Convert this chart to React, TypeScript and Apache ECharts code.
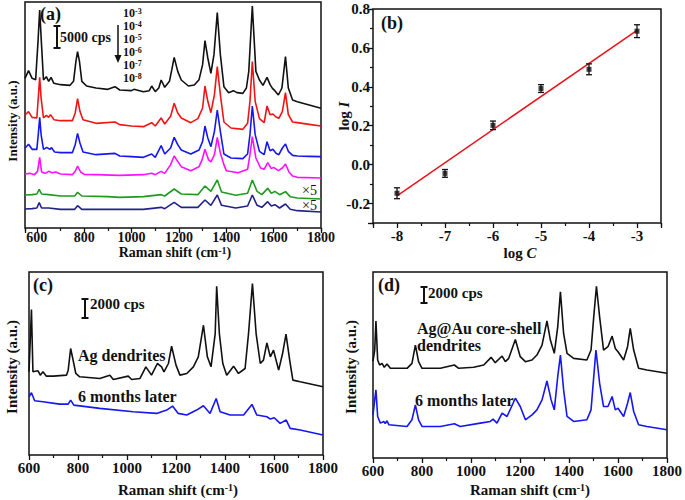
import React, { useEffect, useRef } from 'react';
import * as echarts from 'echarts';

const FONT = "'Times New Roman','Liberation Serif',serif";

// ---------- Panel (a): concentration series (Raman shift, intensity a.u.) ----------
const specA_1e3 = [[550,449],[565,472],[580,449],[595,445],[605,560],[612,654],[619,560],[628,444],[640,454],[650,440],[660,452],[672,434],[700,430],[740,428],[755,440],[765,500],[772,529],[780,500],[790,440],[810,426],[850,420],[900,416],[930,424],[950,414],[1000,412],[1010,416],[1050,409],[1075,412],[1085,426],[1100,409],[1115,420],[1125,444],[1140,422],[1160,440],[1170,475],[1180,512],[1195,470],[1210,444],[1240,426],[1265,429],[1285,445],[1300,490],[1310,562],[1322,510],[1335,464],[1348,520],[1362,646],[1375,520],[1390,424],[1410,406],[1430,412],[1445,406],[1470,404],[1485,420],[1495,470],[1510,666],[1525,470],[1540,444],[1555,428],[1572,452],[1585,430],[1595,419],[1605,412],[1620,399],[1635,420],[1650,514],[1662,420],[1680,384],[1700,379],[1750,369],[1800,359]];
const specA_1e4 = [[550,339],[565,349],[580,332],[600,330],[606,390],[612,452],[618,390],[628,330],[640,338],[650,332],[658,340],[672,325],[700,322],[750,322],[762,345],[772,388],[782,350],[795,325],[850,314],[930,318],[950,310],[1000,306],[1050,304],[1085,316],[1100,306],[1125,330],[1140,312],[1165,335],[1180,374],[1195,345],[1210,330],[1250,316],[1280,328],[1300,360],[1310,426],[1322,380],[1335,346],[1350,400],[1362,484],[1375,400],[1390,318],[1420,300],[1470,296],[1490,314],[1500,380],[1510,499],[1522,380],[1540,328],[1560,316],[1572,366],[1585,340],[1597,342],[1610,333],[1622,329],[1637,350],[1650,406],[1662,340],[1680,318],[1700,316],[1750,311],[1800,306]];
const specA_1e5 = [[550,239],[565,251],[580,236],[600,236],[606,280],[612,332],[618,280],[628,236],[642,242],[655,236],[662,241],[675,228],[700,226],[750,226],[762,250],[772,284],[782,255],[795,228],[850,220],[930,224],[950,216],[1000,214],[1050,212],[1085,222],[1100,212],[1125,247],[1140,222],[1165,240],[1180,272],[1195,250],[1210,234],[1250,222],[1285,234],[1300,260],[1310,306],[1322,270],[1335,244],[1350,290],[1362,354],[1375,290],[1390,222],[1420,210],[1470,208],[1490,222],[1500,280],[1510,366],[1522,280],[1540,230],[1560,220],[1572,259],[1585,232],[1597,236],[1610,224],[1622,220],[1637,240],[1650,252],[1662,230],[1680,218],[1700,216],[1750,215],[1800,214]];
const specA_1e6 = [[550,162],[570,164],[590,160],[603,170],[612,212],[620,168],[635,164],[650,170],[665,166],[680,168],[700,162],[750,160],[762,170],[772,186],[785,168],[800,161],[850,160],[950,158],[1050,160],[1085,164],[1100,160],[1125,170],[1140,164],[1165,190],[1180,216],[1195,200],[1210,184],[1250,172],[1285,184],[1298,205],[1310,236],[1325,205],[1335,198],[1350,220],[1362,272],[1375,225],[1390,190],[1400,172],[1450,166],[1490,176],[1500,220],[1510,274],[1525,210],[1545,180],[1560,176],[1575,196],[1590,178],[1600,182],[1620,172],[1637,180],[1650,192],[1665,168],[1680,156],[1700,152],[1800,150]];
const specA_1e7 = [[550,99],[580,100],[600,102],[610,116],[620,102],[650,100],[700,96],[760,96],[772,107],[790,96],[900,94],[950,92],[1050,94],[1125,100],[1140,96],[1180,117],[1210,102],[1280,100],[1310,126],[1335,110],[1362,144],[1380,108],[1440,98],[1490,104],[1510,144],[1530,110],[1550,100],[1575,119],[1590,104],[1605,110],[1625,100],[1650,109],[1670,94],[1700,90],[1800,87]];
const specA_1e8 = [[550,57],[580,58],[600,60],[610,76],[620,60],[650,60],[700,56],[760,56],[772,67],[790,56],[900,56],[1050,56],[1125,62],[1140,58],[1180,77],[1210,62],[1280,62],[1310,84],[1335,68],[1362,99],[1380,68],[1440,60],[1490,66],[1510,99],[1530,68],[1550,62],[1575,79],[1590,66],[1605,70],[1625,60],[1650,72],[1670,56],[1700,52],[1800,48]];
const concExponents = ['-3', '-4', '-5', '-6', '-7', '-8'];
const specAColors = ['#111111', '#f01414', '#1616f2', '#ff10ff', '#1f9a1f', '#22228c'];

// ---------- Panel (b): calibration ----------
const logC = [-8, -7, -6, -5, -4, -3];
const logI = [-0.147, -0.045, 0.202, 0.391, 0.49, 0.686];
const logIErr = [0.028, 0.02, 0.022, 0.02, 0.028, 0.033];
const fitLogC = [-8, -3];
const fitLogI = [-0.16, 0.69];

// ---------- Panel (c): Ag dendrites ----------
const specC_Ag = [[600,250],[610,437],[616,250],[637,253],[646,240],[657,250],[671,237],[700,237],[753,240],[760,255],[770,320],[780,285],[791,245],[807,235],[889,230],[930,240],[944,227],[1005,237],[1019,227],[1053,230],[1077,265],[1100,240],[1124,275],[1141,265],[1151,250],[1169,275],[1182,327],[1200,270],[1216,240],[1244,245],[1271,265],[1291,295],[1312,390],[1328,295],[1343,265],[1360,365],[1366,507],[1377,365],[1391,275],[1407,240],[1435,267],[1455,245],[1482,260],[1496,365],[1512,515],[1527,365],[1544,275],[1557,285],[1571,337],[1585,295],[1598,315],[1619,255],[1635,305],[1649,363],[1664,285],[1677,225],[1707,220],[1800,205]];
const specC_Ag6m = [[600,175],[610,187],[623,163],[657,160],[725,153],[760,153],[770,165],[783,150],[889,140],[1025,130],[1121,125],[1162,135],[1186,147],[1209,125],[1244,120],[1284,135],[1312,148],[1339,125],[1364,170],[1380,130],[1421,120],[1476,120],[1510,152],[1530,120],[1571,115],[1585,108],[1601,112],[1625,95],[1650,105],[1666,80],[1707,75],[1800,60]];

// ---------- Panel (d): Ag@Au core-shell dendrites ----------
const specD_AgAu = [[600,292],[607,325],[612,412],[619,295],[627,280],[637,285],[646,273],[657,283],[671,270],[739,270],[759,285],[773,340],[786,290],[800,270],[875,270],[932,280],[950,270],[1011,273],[1052,280],[1082,303],[1099,287],[1127,307],[1140,290],[1154,300],[1181,357],[1201,305],[1222,290],[1249,295],[1269,310],[1290,340],[1310,413],[1324,355],[1340,315],[1354,395],[1365,500],[1378,375],[1392,315],[1419,300],[1473,295],[1490,325],[1501,425],[1512,517],[1525,425],[1541,325],[1559,335],[1576,367],[1589,330],[1600,320],[1623,295],[1639,335],[1650,390],[1664,325],[1684,270],[1718,265],[1800,255]];
const specD_AgAu6m = [[600,130],[607,175],[612,205],[619,125],[630,105],[644,110],[650,104],[657,112],[665,100],[739,95],[759,115],[773,160],[786,115],[800,95],[875,95],[932,103],[956,95],[1038,105],[1079,110],[1090,117],[1106,105],[1127,135],[1147,125],[1181,180],[1201,155],[1222,115],[1249,130],[1269,145],[1290,175],[1310,232],[1327,175],[1340,145],[1354,245],[1365,310],[1378,205],[1392,125],[1419,110],[1473,115],[1490,145],[1501,245],[1510,325],[1525,225],[1541,155],[1559,155],[1576,185],[1589,145],[1600,150],[1623,125],[1639,165],[1650,197],[1664,140],[1684,100],[1718,95],[1800,85]];

const INK = '#111111';

function lbl(x: number, y: number, text: string, size: number, extra: any = {}) {
  return {
    type: 'text', x, y, z: 50,
    style: {
      text, fontSize: size, fontWeight: 'bold', fontFamily: FONT, fill: INK,
      textAlign: 'left', textVerticalAlign: 'middle', ...extra,
    },
  };
}

function richLbl(x: number, y: number, text: string, size: number, extra: any = {}, rot = 0, lh?: number) {
  return {
    type: 'text', x, y, z: 50, rotation: rot,
    style: {
      text, fontSize: size, fontWeight: 'bold', fontFamily: FONT, fill: INK,
      textAlign: 'center', textVerticalAlign: 'middle',
      rich: {
        n: { fontSize: size, fontWeight: 'bold', fontFamily: FONT, fill: INK, lineHeight: lh },
        i: { fontSize: size, fontWeight: 'bold', fontStyle: 'italic', fontFamily: FONT, fill: INK, lineHeight: lh },
        s: { fontSize: Math.round(size * 0.68), fontWeight: 'bold', fontFamily: FONT, fill: INK, verticalAlign: 'top', lineHeight: lh },
      },
      ...extra,
    },
  };
}

function scaleBar(x: number, y1: number, y2: number) {
  const st = { stroke: INK, lineWidth: 2 };
  return [
    { type: 'line', z: 50, shape: { x1: x, y1, x2: x, y2 }, style: st },
    { type: 'line', z: 50, shape: { x1: x - 3.5, y1, x2: x + 3.5, y2: y1 }, style: st },
    { type: 'line', z: 50, shape: { x1: x - 3.5, y1: y2, x2: x + 3.5, y2 }, style: st },
  ];
}

const tickLabel = (size: number) => ({ fontFamily: FONT, fontWeight: 'bold', fontSize: size, color: INK });

function spectrumSeries(data: number[][], color: string, xi: number, yi: number) {
  return {
    type: 'line', data, xAxisIndex: xi, yAxisIndex: yi, symbol: 'none', showSymbol: false,
    lineStyle: { color, width: 1.6 }, z: 2, silent: true,
  };
}

export default function App() {
  const ref = useRef<HTMLDivElement>(null);
  useEffect(() => {
    if (!ref.current) return;
    const chart = echarts.init(ref.current, undefined, { renderer: 'svg' });
    const gridBase = { show: true, borderColor: INK, borderWidth: 1.5, backgroundColor: 'transparent', containLabel: false };

    const noLine = { show: false, onZero: false };
    const majorTick = { show: true, length: 5, inside: false, lineStyle: { color: INK, width: 1.3 } };
    const minorAxisCommon = {
      axisLine: noLine, axisLabel: { show: false }, splitLine: { show: false },
      axisTick: { show: true, length: 3, inside: false, lineStyle: { color: INK, width: 1.2 } },
    };
    const plain = (v: number) => String(v);

    const graphics: any[] = [];
    // (a)
    graphics.push(lbl(40, 14, '(a)', 18));
    graphics.push(...scaleBar(57, 26, 48));
    graphics.push(lbl(60, 37, '5000 cps', 14));
    graphics.push({ type: 'line', z: 50, shape: { x1: 118, y1: 25, x2: 118, y2: 56 }, style: { stroke: INK, lineWidth: 1.5 } });
    graphics.push({ type: 'polygon', z: 50, shape: { points: [[114.5, 55], [121.5, 55], [118, 63]] }, style: { fill: INK } });
    const expYs = [13, 26, 39, 52, 65, 78];
    concExponents.forEach((e, i) => {
      graphics.push(richLbl(123, expYs[i], `{n|10}{s|${e}}`, 12, { textAlign: 'left' }, 0, 11));
    });
    graphics.push(lbl(302, 190, '×5', 14, { fontWeight: 'normal' }));
    graphics.push(lbl(302, 205, '×5', 14, { fontWeight: 'normal' }));
    graphics.push(richLbl(12, 121, '{n|Intensity (a.u.)}', 13, {}, Math.PI / 2));
    graphics.push(richLbl(175, 252, '{n|Raman shift (cm}{s|-1}{n|)}', 14));
    // (b)
    graphics.push(lbl(381, 23, '(b)', 18));
    graphics.push(richLbl(344, 116, '{n|log }{i|I}', 15, {}, Math.PI / 2));
    graphics.push(richLbl(520, 253, '{n|log }{i|C}', 15));
    // (c)
    graphics.push(lbl(33, 285, '(c)', 18));
    graphics.push(...scaleBar(85, 299, 318));
    graphics.push(lbl(90, 304, '2000 cps', 15));
    graphics.push(lbl(78, 355, 'Ag dendrites', 16));
    graphics.push(lbl(78, 396, '6 months later', 16));
    graphics.push(richLbl(12, 367, '{n|Intensity (a.u.)}', 15, {}, Math.PI / 2));
    graphics.push(richLbl(178, 490, '{n|Raman shift (cm}{s|-1}{n|)}', 15));
    // (d)
    graphics.push(lbl(378, 285, '(d)', 18));
    graphics.push(...scaleBar(424, 287, 303));
    graphics.push(lbl(428, 293, '2000 cps', 15));
    graphics.push(lbl(417, 328, 'Ag@Au core-shell', 16));
    graphics.push(lbl(417, 345, 'dendrites', 16));
    graphics.push(lbl(415, 400, '6 months later', 16));
    graphics.push(richLbl(351, 367, '{n|Intensity (a.u.)}', 15, {}, Math.PI / 2));
    graphics.push(richLbl(530, 490, '{n|Raman shift (cm}{s|-1}{n|)}', 15));

    const specAList = [specA_1e3, specA_1e4, specA_1e5, specA_1e6, specA_1e7, specA_1e8];
    const hiddenY = { axisLine: noLine, axisTick: { show: false }, axisLabel: { show: false }, splitLine: { show: false } };

    const option: any = {
      animation: false,
      backgroundColor: '#ffffff',
      grid: [
        { ...gridBase, left: 25, top: 2, width: 296, height: 226 },
        { ...gridBase, left: 373, top: 9, width: 288, height: 214 },
        { ...gridBase, left: 29, top: 272, width: 294, height: 183 },
        { ...gridBase, left: 373, top: 272, width: 294, height: 186 },
      ],
      xAxis: [
        { // 0: (a) major
          type: 'value', gridIndex: 0, min: 550, max: 1800, minInterval: 200, maxInterval: 200, position: 'bottom',
          axisLine: noLine, splitLine: { show: false }, axisTick: majorTick,
          axisLabel: { ...tickLabel(14), margin: 2, formatter: (v: number) => (v % 200 === 0 ? String(v) : '') },
        },
        { // 1: (a) minor ticks (shifted by +100)
          type: 'value', gridIndex: 0, min: 650, max: 1900, minInterval: 200, maxInterval: 200, position: 'bottom', ...minorAxisCommon,
        },
        { // 2: (b) major
          type: 'value', gridIndex: 1, min: -8.5, max: -2.5, minInterval: 1, maxInterval: 1, position: 'bottom',
          axisLine: noLine, splitLine: { show: false }, axisTick: majorTick,
          axisLabel: { ...tickLabel(15), margin: 5, formatter: (v: number) => (Number.isInteger(v) ? String(v) : '') },
        },
        { // 3: (b) minor (shifted by +0.5)
          type: 'value', gridIndex: 1, min: -8, max: -2, interval: 1, position: 'bottom', ...minorAxisCommon,
        },
        { // 4: (c)
          type: 'value', gridIndex: 2, min: 600, max: 1800, interval: 200, position: 'bottom',
          axisLine: noLine, splitLine: { show: false }, axisTick: majorTick,
          minorTick: { show: true, splitNumber: 2, length: 3, lineStyle: { color: INK, width: 1.2 } },
          axisLabel: { ...tickLabel(15), margin: 5, formatter: plain },
        },
        { // 5: (d)
          type: 'value', gridIndex: 3, min: 600, max: 1800, interval: 200, position: 'bottom',
          axisLine: noLine, splitLine: { show: false }, axisTick: majorTick,
          minorTick: { show: true, splitNumber: 2, length: 3, lineStyle: { color: INK, width: 1.2 } },
          axisLabel: { ...tickLabel(15), margin: 5, formatter: plain },
        },
      ],
      yAxis: [
        { type: 'value', gridIndex: 0, min: 0, max: 678, ...hiddenY },
        { // 1: (b) major
          type: 'value', gridIndex: 1, min: -0.3, max: 0.8, minInterval: 0.2, maxInterval: 0.2, position: 'left',
          axisLine: noLine, splitLine: { show: false }, axisTick: majorTick,
          axisLabel: { ...tickLabel(15), margin: 3, formatter: (v: number) => (Math.abs(v + 0.3) < 1e-6 ? '' : v.toFixed(1)) },
        },
        { // 2: (b) minor (shifted by +0.1)
          type: 'value', gridIndex: 1, min: -0.2, max: 0.9, interval: 0.2, position: 'left', ...minorAxisCommon,
        },
        { type: 'value', gridIndex: 2, min: 0, max: 550, ...hiddenY },
        { type: 'value', gridIndex: 3, min: 0, max: 560, ...hiddenY },
      ],
      series: [
        ...specAList.map((d, i) => spectrumSeries(d, specAColors[i], 0, 0)).reverse(),
        {
          type: 'line', xAxisIndex: 2, yAxisIndex: 1, symbol: 'none', silent: true,
          data: fitLogC.map((c, i) => [c, fitLogI[i]]),
          lineStyle: { color: '#e8141c', width: 1.5 }, z: 2,
        },
        {
          type: 'custom', xAxisIndex: 2, yAxisIndex: 1, silent: true, z: 3,
          data: logC.map((c, i) => [c, logI[i], logIErr[i]]),
          encode: { x: 0, y: 1 },
          renderItem: (params: any, api: any) => {
            const x = api.value(0), y = api.value(1), e = api.value(2);
            const top = api.coord([x, y + e]);
            const bot = api.coord([x, y - e]);
            const w = 3;
            const st = { stroke: INK, lineWidth: 1.3 };
            return {
              type: 'group',
              children: [
                { type: 'line', shape: { x1: top[0], y1: top[1], x2: bot[0], y2: bot[1] }, style: st },
                { type: 'line', shape: { x1: top[0] - w, y1: top[1], x2: top[0] + w, y2: top[1] }, style: st },
                { type: 'line', shape: { x1: bot[0] - w, y1: bot[1], x2: bot[0] + w, y2: bot[1] }, style: st },
              ],
            };
          },
        },
        {
          type: 'scatter', xAxisIndex: 2, yAxisIndex: 1, silent: true, z: 4,
          data: logC.map((c, i) => [c, logI[i]]),
          symbol: 'rect', symbolSize: 5, itemStyle: { color: INK },
        },
        spectrumSeries(specC_Ag, '#111111', 4, 3),
        spectrumSeries(specC_Ag6m, '#1616f2', 4, 3),
        spectrumSeries(specD_AgAu, '#111111', 5, 4),
        spectrumSeries(specD_AgAu6m, '#1616f2', 5, 4),
      ],
      graphic: graphics,
    };
    chart.setOption(option);
    return () => chart.dispose();
  }, []);
  return <div ref={ref} style={{ position: 'absolute', left: 0, top: 0, width: 685, height: 500, background: '#fff' }} />;
}
